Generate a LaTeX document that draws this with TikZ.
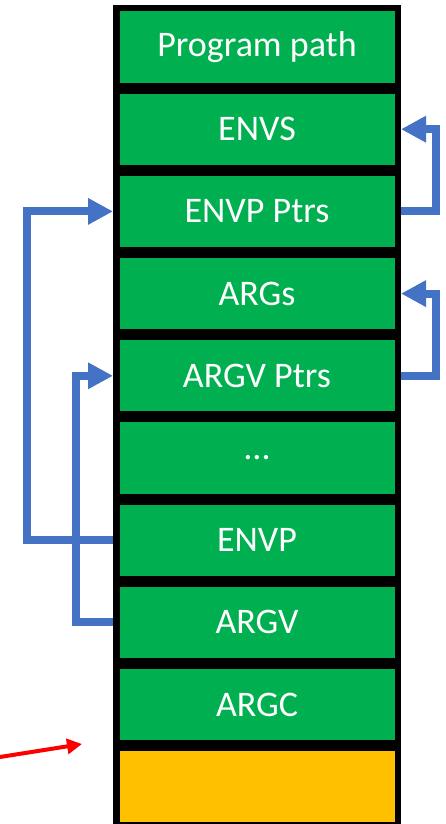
\documentclass[tikz,border=0pt]{standalone}
\usepackage{fontspec}
\setmainfont{Carlito}
\usepackage{xcolor}
\usetikzlibrary{arrows.meta, positioning}

\definecolor{slotgreen}{HTML}{00B050}
\definecolor{slotorange}{HTML}{FFC000}
\definecolor{ptrblue}{HTML}{4472C4}

\begin{document}
\begin{tikzpicture}[x=1pt, y=-1pt,
    slot/.style={draw=black, line width=6.5pt, fill=slotgreen, text=white,
      minimum width=281.5pt, minimum height=77.7pt, inner sep=0pt,
      font=\fontsize{36}{42}\selectfont},
    ptr/.style={draw=ptrblue, line width=8pt, -{Triangle[length=25pt,width=25pt]}},
    spptr/.style={draw=red, line width=4pt, -{Triangle[length=15pt,width=15pt]}}]
          \useasboundingbox (0,0) rectangle (445,824);

          % the stack, top slot first
          \node[slot] (path) at (257,47) {Program path};
          \node[slot, below=-2pt of path] (envs) {ENVS};
          \node[slot, below=-2pt of envs] (envpptr) {ENVP Ptrs};
          \node[slot, below=-2pt of envpptr] (args) {ARGs};
          \node[slot, below=-2pt of args] (argvptr) {ARGV Ptrs};
          \node[slot, below=-2pt of argvptr] (dots) {\dots};
          \node[slot, below=-2pt of dots] (envp) {ENVP};
          \node[slot, below=-2pt of envp] (argv) {ARGV};
          \node[slot, below=-2pt of argv] (argc) {ARGC};
          \node[slot, fill=slotorange, below=-2pt of argc] (top) {};

          % pointer arrays point up to the strings
          \draw[ptr] (envpptr.east) -- ++(35,0) |- (envs.east);
          \draw[ptr] (argvptr.east) -- ++(35,0) |- (args.east);

          % envp and argv point to the pointer arrays
          \draw[ptr] (envp.west) -- ++(-86,0) |- (envpptr.west);
          \draw[ptr] (argv.west) -- ++(-37,0) |- (argvptr.west);

          % stack pointer
          \coordinate (spfrom) at (0,757);
          \coordinate (sptip) at (82,744);
          \draw[spptr] (spfrom) -- (sptip);
      \end{tikzpicture}
\end{document}
